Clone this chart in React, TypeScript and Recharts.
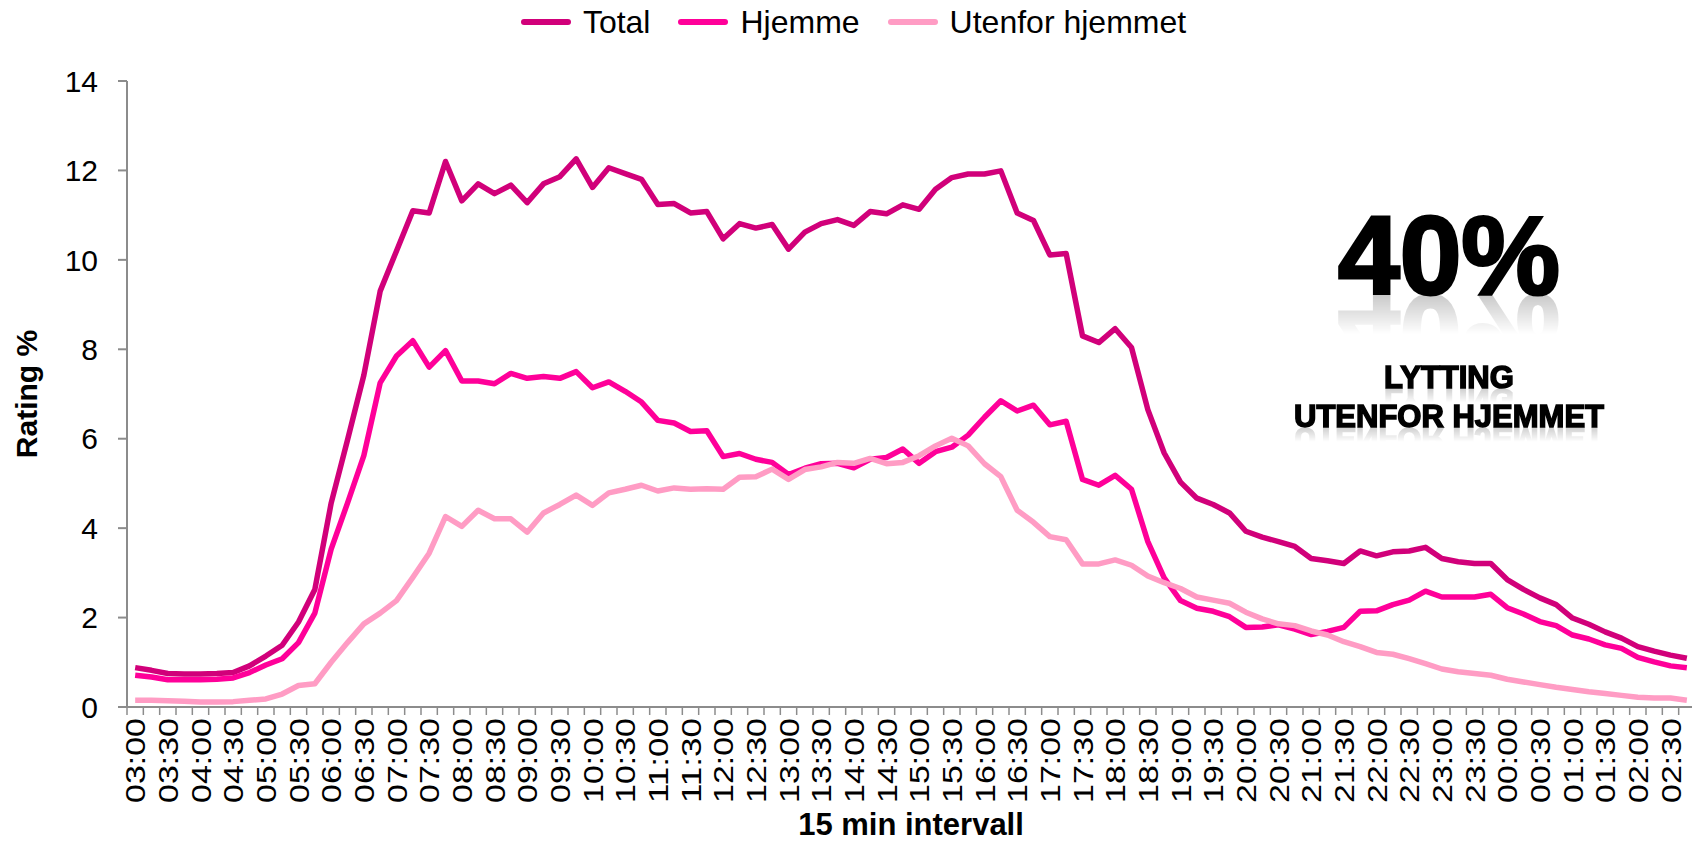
import React from "react";
import { LineChart, Line, XAxis, YAxis, Legend } from "recharts";

// 15-minutters intervaller, 03:00 -> 02:45
const times = [
  "03:00", "03:15", "03:30", "03:45", "04:00", "04:15", "04:30", "04:45",
  "05:00", "05:15", "05:30", "05:45", "06:00", "06:15", "06:30", "06:45",
  "07:00", "07:15", "07:30", "07:45", "08:00", "08:15", "08:30", "08:45",
  "09:00", "09:15", "09:30", "09:45", "10:00", "10:15", "10:30", "10:45",
  "11:00", "11:15", "11:30", "11:45", "12:00", "12:15", "12:30", "12:45",
  "13:00", "13:15", "13:30", "13:45", "14:00", "14:15", "14:30", "14:45",
  "15:00", "15:15", "15:30", "15:45", "16:00", "16:15", "16:30", "16:45",
  "17:00", "17:15", "17:30", "17:45", "18:00", "18:15", "18:30", "18:45",
  "19:00", "19:15", "19:30", "19:45", "20:00", "20:15", "20:30", "20:45",
  "21:00", "21:15", "21:30", "21:45", "22:00", "22:15", "22:30", "22:45",
  "23:00", "23:15", "23:30", "23:45", "00:00", "00:15", "00:30", "00:45",
  "01:00", "01:15", "01:30", "01:45", "02:00", "02:15", "02:30", "02:45",
];

const total = [
  0.88, 0.82, 0.75, 0.74, 0.74, 0.75, 0.77, 0.92, 1.14, 1.38,
  1.9, 2.63, 4.56, 5.97, 7.42, 9.3, 10.2, 11.1, 11.05, 12.2,
  11.32, 11.7, 11.48, 11.67, 11.28, 11.7, 11.86, 12.26, 11.62, 12.06,
  11.93, 11.8, 11.24, 11.26, 11.05, 11.08, 10.47, 10.81, 10.71, 10.79,
  10.24, 10.62, 10.81, 10.9, 10.77, 11.08, 11.03, 11.23, 11.13, 11.58,
  11.84, 11.92, 11.92, 11.99, 11.05, 10.88, 10.11, 10.14, 8.3, 8.15,
  8.46, 8.04, 6.65, 5.68, 5.03, 4.67, 4.53, 4.34, 3.93, 3.8,
  3.7, 3.59, 3.32, 3.27, 3.21, 3.49, 3.38, 3.47, 3.49, 3.57,
  3.32, 3.25, 3.21, 3.21, 2.85, 2.63, 2.44, 2.29, 1.99, 1.85,
  1.68, 1.54, 1.35, 1.25, 1.16, 1.09,
];

const hjemme = [
  0.71, 0.67, 0.61, 0.61, 0.61, 0.62, 0.65, 0.77, 0.94, 1.08,
  1.44, 2.1, 3.53, 4.56, 5.62, 7.25, 7.85, 8.19, 7.6, 7.97,
  7.29, 7.29, 7.23, 7.46, 7.35, 7.39, 7.35, 7.5, 7.14, 7.27,
  7.06, 6.82, 6.41, 6.35, 6.16, 6.18, 5.6, 5.67, 5.54, 5.47,
  5.2, 5.34, 5.44, 5.45, 5.35, 5.54, 5.58, 5.77, 5.45, 5.71,
  5.81, 6.08, 6.48, 6.85, 6.62, 6.75, 6.31, 6.39, 5.09, 4.96,
  5.18, 4.87, 3.7, 2.89, 2.38, 2.21, 2.14, 2.02, 1.78, 1.79,
  1.84, 1.74, 1.62, 1.69, 1.78, 2.14, 2.15, 2.29, 2.39, 2.59,
  2.46, 2.46, 2.46, 2.52, 2.22, 2.08, 1.91, 1.82, 1.61, 1.52,
  1.39, 1.31, 1.11, 1.01, 0.92, 0.88,
];

const utenfor = [
  0.15, 0.15, 0.14, 0.13, 0.11, 0.11, 0.12, 0.15, 0.18, 0.29,
  0.48, 0.52, 1.0, 1.44, 1.86, 2.1, 2.38, 2.9, 3.44, 4.26,
  4.04, 4.4, 4.21, 4.21, 3.91, 4.34, 4.53, 4.74, 4.51, 4.79,
  4.87, 4.96, 4.83, 4.9, 4.87, 4.88, 4.87, 5.14, 5.15, 5.32,
  5.09, 5.31, 5.37, 5.47, 5.45, 5.56, 5.44, 5.47, 5.62, 5.84,
  6.01, 5.84, 5.44, 5.15, 4.4, 4.13, 3.81, 3.74, 3.2, 3.2,
  3.29, 3.17, 2.93, 2.78, 2.65, 2.46, 2.39, 2.32, 2.12, 1.97,
  1.86, 1.82, 1.7, 1.61, 1.46, 1.35, 1.22, 1.18, 1.08, 0.97,
  0.85, 0.79, 0.75, 0.71, 0.62, 0.56, 0.5, 0.44, 0.39, 0.34,
  0.3, 0.26, 0.22, 0.2, 0.2, 0.15,
];

const seriesNames = ["Total", "Hjemme", "Utenfor hjemmet"];
const yTicks = [0, 2, 4, 6, 8, 10, 12, 14];

const AXIS = "#8c8c8c";
const FONT = "'Liberation Sans', Arial, sans-serif";

// hver rad ligger midt i sitt intervall (i + 0.5)
const data = times.map((t, i) => ({
  slot: i + 0.5,
  time: t,
  total: total[i],
  hjemme: hjemme[i],
  utenfor: utenfor[i],
}));

// tick-streker på intervallgrensene, etiketter på annenhver midte
const xTicks: number[] = [];
for (let i = 0; i <= times.length; i++) {
  xTicks.push(i);
  if (i < times.length && i % 2 === 0) xTicks.push(i + 0.5);
}

function TimeTick(props: any) {
  const { x, y, payload } = props;
  const v = payload.value;
  if (Number.isInteger(v)) {
    return <line x1={x} y1={y} x2={x} y2={y + 8} stroke={AXIS} strokeWidth={1.5} />;
  }
  const ty = y + 11;
  return (
    <text
      x={x}
      y={ty}
      dy="0.36em"
      transform={`rotate(-90 ${x} ${ty})`}
      textAnchor="end"
      fontSize={28}
      textLength={85}
      lengthAdjust="spacingAndGlyphs"
      fill="#000"
      fontFamily={FONT}
    >
      {times[Math.floor(v)]}
    </text>
  );
}

function YTitle(props: any) {
  const { viewBox } = props;
  const cx = viewBox.x + 37;
  const cy = viewBox.y + viewBox.height / 2;
  return (
    <text
      x={cx}
      y={cy}
      transform={`rotate(-90 ${cx} ${cy})`}
      textAnchor="middle"
      fontSize={30}
      fontWeight="bold"
      fontFamily={FONT}
      fill="#000"
    >
      Rating %
    </text>
  );
}

function XTitle(props: any) {
  const { viewBox } = props;
  return (
    <text
      x={viewBox.x + viewBox.width / 2}
      y={viewBox.y + 128}
      textAnchor="middle"
      fontSize={31}
      fontWeight="bold"
      fontFamily={FONT}
      fill="#000"
    >
      15 min intervall
    </text>
  );
}

function LegendRow(props: any) {
  const items = [...(props.payload || [])].sort(
    (a: any, b: any) => seriesNames.indexOf(a.value) - seriesNames.indexOf(b.value)
  );
  return (
    <div
      style={{
        height: 81,
        display: "flex",
        justifyContent: "center",
        alignItems: "flex-start",
        paddingLeft: 40,
        boxSizing: "border-box",
        fontFamily: FONT,
      }}
    >
      {items.map((item: any) => (
        <div key={item.value} style={{ display: "flex", alignItems: "center", height: 44, marginRight: 28 }}>
          <svg width={50} height={8}>
            <line x1={3} y1={4} x2={47} y2={4} stroke={item.color} strokeWidth={6} strokeLinecap="round" />
          </svg>
          <span style={{ marginLeft: 12, fontSize: 32, lineHeight: "44px", color: "#000" }}>{item.value}</span>
        </div>
      ))}
    </div>
  );
}

const bigText: any = {
  position: "absolute",
  left: 1249,
  width: 400,
  textAlign: "center",
  fontWeight: "bold",
  color: "#000",
};

export default function App() {
  return (
    <div
      style={{
        position: "absolute",
        left: 0,
        top: 0,
        width: 1692,
        height: 843,
        overflow: "hidden",
        background: "#fff",
        fontFamily: FONT,
      }}
    >
      <LineChart width={1700} height={843} data={data} margin={{ top: 0, right: 5, bottom: 0, left: 0 }}>
        <Legend verticalAlign="top" align="center" content={(p: any) => <LegendRow {...p} />} />
        <XAxis
          dataKey="slot"
          type="number"
          domain={[0, times.length]}
          ticks={xTicks}
          interval={0}
          height={136}
          tickSize={0}
          tickMargin={0}
          tickLine={false}
          axisLine={{ stroke: AXIS, strokeWidth: 2 }}
          tick={<TimeTick />}
          label={<XTitle />}
        />
        <YAxis
          domain={[0, 14]}
          ticks={yTicks}
          interval={0}
          width={127}
          tickSize={9}
          tickMargin={20}
          axisLine={{ stroke: AXIS, strokeWidth: 2 }}
          tickLine={{ stroke: AXIS, strokeWidth: 2 }}
          tick={{ fill: "#000", fontSize: 30, fontFamily: FONT }}
          label={<YTitle />}
        />
        <Line name="Total" dataKey="total" type="linear" stroke="#D1007A" strokeWidth={5.5} dot={false} strokeLinejoin="round" isAnimationActive={false} />
        <Line name="Hjemme" dataKey="hjemme" type="linear" stroke="#FF0099" strokeWidth={5.5} dot={false} strokeLinejoin="round" isAnimationActive={false} />
        <Line name="Utenfor hjemmet" dataKey="utenfor" type="linear" stroke="#FF9CC4" strokeWidth={5.5} dot={false} strokeLinejoin="round" isAnimationActive={false} />
      </LineChart>

      <div
        style={{
          ...bigText,
          top: 200,
          fontSize: 111,
          lineHeight: "112px",
          WebkitTextStroke: "3px #000",
          WebkitBoxReflect: "below -34px linear-gradient(transparent 50%, rgba(0,0,0,0.3))",
        }}
      >
        40%
      </div>
      <div
        style={{
          ...bigText,
          top: 359,
          fontSize: 31,
          lineHeight: "38px",
          WebkitTextStroke: "1.5px #000",
          WebkitBoxReflect: "below -17px linear-gradient(transparent 40%, rgba(0,0,0,0.3))",
        }}
      >
        LYTTING
      </div>
      <div
        style={{
          ...bigText,
          top: 398,
          fontSize: 31,
          lineHeight: "38px",
          WebkitTextStroke: "1.5px #000",
          WebkitBoxReflect: "below -17px linear-gradient(transparent 40%, rgba(0,0,0,0.3))",
        }}
      >
        UTENFOR HJEMMET
      </div>
    </div>
  );
}
